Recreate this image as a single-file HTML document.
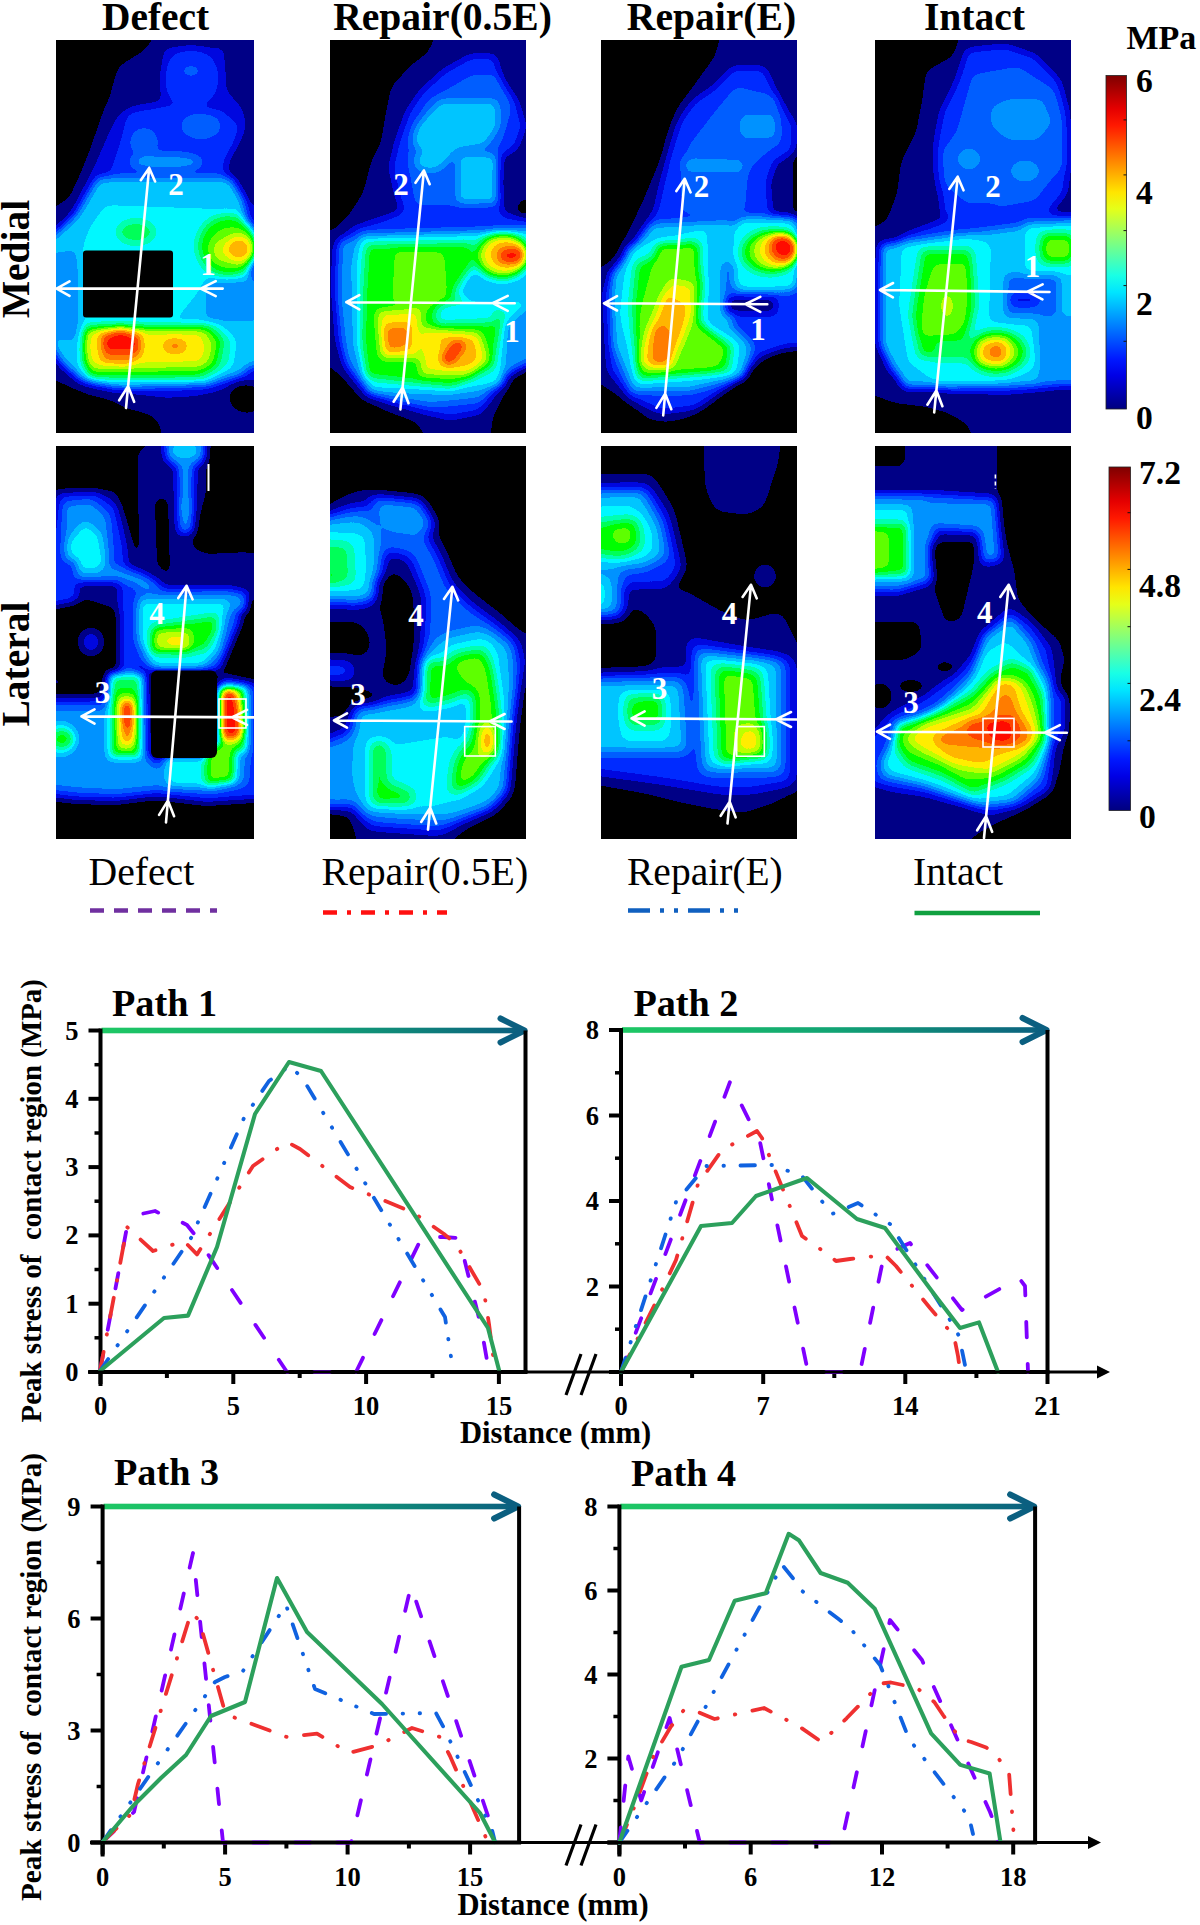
<!DOCTYPE html><html><head><meta charset="utf-8"><title>figure</title>
<style>html,body{margin:0;padding:0;background:#fff;}svg{display:block;}text{font-family:'Liberation Serif', serif;}</style></head><body>
<svg width="1200" height="1925" viewBox="0 0 1200 1925">
<defs>
<filter id="jet" x="-0.1" y="-0.1" width="1.2" height="1.2" color-interpolation-filters="sRGB"><feGaussianBlur stdDeviation="4.2"/><feComponentTransfer><feFuncR type="discrete" tableValues="0.000 0.000 0.000 0.000 0.000 0.000 0.000 0.000 0.000 0.000 0.000 0.370 0.741 1.000 1.000 1.000 1.000 1.000 0.779 0.502"/><feFuncG type="discrete" tableValues="0.000 0.000 0.029 0.170 0.372 0.573 0.774 0.976 1.000 1.000 1.000 1.000 1.000 0.933 0.711 0.489 0.267 0.044 0.000 0.000"/><feFuncB type="discrete" tableValues="0.000 0.529 0.878 1.000 1.000 1.000 1.000 1.000 0.694 0.347 0.000 0.000 0.000 0.000 0.000 0.000 0.000 0.000 0.000 0.000"/><feFuncA type="linear" slope="0" intercept="1"/></feComponentTransfer></filter>
<filter id="jet6" x="-0.1" y="-0.1" width="1.2" height="1.2" color-interpolation-filters="sRGB"><feGaussianBlur stdDeviation="6.0"/><feComponentTransfer><feFuncR type="discrete" tableValues="0.000 0.000 0.000 0.000 0.000 0.000 0.000 0.000 0.000 0.000 0.000 0.370 0.741 1.000 1.000 1.000 1.000 1.000 0.779 0.502"/><feFuncG type="discrete" tableValues="0.000 0.000 0.029 0.170 0.372 0.573 0.774 0.976 1.000 1.000 1.000 1.000 1.000 0.933 0.711 0.489 0.267 0.044 0.000 0.000"/><feFuncB type="discrete" tableValues="0.000 0.529 0.878 1.000 1.000 1.000 1.000 1.000 0.694 0.347 0.000 0.000 0.000 0.000 0.000 0.000 0.000 0.000 0.000 0.000"/><feFuncA type="linear" slope="0" intercept="1"/></feComponentTransfer></filter>
<filter id="jet8" x="-0.1" y="-0.1" width="1.2" height="1.2" color-interpolation-filters="sRGB"><feGaussianBlur stdDeviation="8.0"/><feComponentTransfer><feFuncR type="discrete" tableValues="0.000 0.000 0.000 0.000 0.000 0.000 0.000 0.000 0.000 0.000 0.000 0.370 0.741 1.000 1.000 1.000 1.000 1.000 0.779 0.502"/><feFuncG type="discrete" tableValues="0.000 0.000 0.029 0.170 0.372 0.573 0.774 0.976 1.000 1.000 1.000 1.000 1.000 0.933 0.711 0.489 0.267 0.044 0.000 0.000"/><feFuncB type="discrete" tableValues="0.000 0.529 0.878 1.000 1.000 1.000 1.000 1.000 0.694 0.347 0.000 0.000 0.000 0.000 0.000 0.000 0.000 0.000 0.000 0.000"/><feFuncA type="linear" slope="0" intercept="1"/></feComponentTransfer></filter>
<linearGradient id="cbar" x1="0" y1="1" x2="0" y2="0">
<stop offset="0.000" stop-color="rgb(0,0,127)"/>
<stop offset="0.050" stop-color="rgb(0,0,178)"/>
<stop offset="0.100" stop-color="rgb(0,0,229)"/>
<stop offset="0.150" stop-color="rgb(0,25,255)"/>
<stop offset="0.200" stop-color="rgb(0,76,255)"/>
<stop offset="0.250" stop-color="rgb(0,127,255)"/>
<stop offset="0.300" stop-color="rgb(0,178,255)"/>
<stop offset="0.350" stop-color="rgb(0,229,255)"/>
<stop offset="0.400" stop-color="rgb(25,255,229)"/>
<stop offset="0.450" stop-color="rgb(76,255,178)"/>
<stop offset="0.500" stop-color="rgb(127,255,127)"/>
<stop offset="0.550" stop-color="rgb(178,255,76)"/>
<stop offset="0.600" stop-color="rgb(229,255,25)"/>
<stop offset="0.650" stop-color="rgb(255,229,0)"/>
<stop offset="0.700" stop-color="rgb(255,178,0)"/>
<stop offset="0.750" stop-color="rgb(255,127,0)"/>
<stop offset="0.800" stop-color="rgb(255,76,0)"/>
<stop offset="0.850" stop-color="rgb(255,25,0)"/>
<stop offset="0.900" stop-color="rgb(229,0,0)"/>
<stop offset="0.950" stop-color="rgb(178,0,0)"/>
<stop offset="1.000" stop-color="rgb(127,0,0)"/>
</linearGradient>
<linearGradient id="garr" x1="0" y1="0" x2="1" y2="0"><stop offset="0" stop-color="#1ec864"/><stop offset="0.5" stop-color="#12a474"/><stop offset="1" stop-color="#0b5f80"/></linearGradient>
</defs>
<text x="155.6" y="30.0" font-size="39.4" font-weight="bold" text-anchor="middle" fill="#000" >Defect</text>
<text x="442.5" y="30.0" font-size="39.6" font-weight="bold" text-anchor="middle" fill="#000" >Repair(0.5E)</text>
<text x="711.5" y="30.0" font-size="39.6" font-weight="bold" text-anchor="middle" fill="#000" >Repair(E)</text>
<text x="974.5" y="30.0" font-size="39.6" font-weight="bold" text-anchor="middle" fill="#000" >Intact</text>
<text transform="translate(29,259) rotate(-90)" font-size="39.5" font-weight="bold" text-anchor="middle">Medial</text>
<text transform="translate(28.5,664) rotate(-90)" font-size="39.5" font-weight="bold" text-anchor="middle">Lateral</text>
<clipPath id="clip00"><rect x="0" y="0" width="198" height="393"/></clipPath>
<g transform="translate(56,40)" clip-path="url(#clip00)">
<g filter="url(#jet)">
<rect x="-20" y="-20" width="238" height="433" fill="#060606"/>
<polygon points="105.0,-14.0 212.0,-14.0 212.0,407.0 109.0,407.0 102.0,380.0 89.0,373.0 69.0,368.0 54.0,360.0 33.0,355.0 16.0,348.0 -14.0,334.0 -14.0,175.0 13.0,158.0 25.0,132.0 33.0,112.0 40.0,92.0 48.0,69.0 54.0,56.0 58.0,40.0 63.0,26.0 79.0,16.0 89.0,10.0" fill="#131313"/>
<ellipse cx="191.0" cy="358.0" rx="18.0" ry="15.0" fill="#060606"/>
<polygon points="108.0,8.0 168.0,8.0 170.0,50.0 186.0,68.0 190.0,84.0 184.0,100.0 172.0,118.0 170.0,135.0 188.0,160.0 212.0,175.0 212.0,345.0 180.0,340.0 165.0,350.0 140.0,356.0 110.0,358.0 90.0,355.0 60.0,348.0 30.0,342.0 12.0,328.0 5.0,290.0 4.0,200.0 18.0,170.0 30.0,145.0 42.0,118.0 52.0,95.0 62.0,75.0 80.0,66.0 105.0,62.0" fill="#202020"/>
<ellipse cx="135.0" cy="38.0" rx="28.0" ry="30.0" fill="#2d2d2d"/>
<ellipse cx="135.0" cy="31.0" rx="10.0" ry="5.0" fill="#393939"/>
<polygon points="72.0,72.0 110.0,66.0 165.0,70.0 184.0,86.0 178.0,106.0 168.0,125.0 172.0,150.0 190.0,172.0 190.0,205.0 40.0,205.0 45.0,160.0 55.0,130.0 65.0,100.0" fill="#2d2d2d"/>
<ellipse cx="145.0" cy="86.0" rx="20.0" ry="13.0" fill="#393939"/>
<ellipse cx="88.0" cy="102.0" rx="14.0" ry="14.0" fill="#393939"/>
<ellipse cx="110.0" cy="122.0" rx="36.0" ry="8.0" fill="#464646"/>
<polygon points="42.0,138.0 175.0,138.0 188.0,160.0 190.0,240.0 212.0,270.0 212.0,310.0 185.0,335.0 150.0,345.0 60.0,348.0 25.0,340.0 5.0,322.0 -14.0,290.0 -14.0,205.0 20.0,175.0" fill="#535353"/>
<polygon points="50.0,165.0 188.0,170.0 195.0,240.0 150.0,242.0 120.0,280.0 27.0,280.0 27.0,205.0 35.0,185.0" fill="#606060"/>
<ellipse cx="80.0" cy="192.0" rx="18.0" ry="11.0" fill="#797979"/>
<polygon points="-14.0,215.0 20.0,210.0 24.0,240.0 22.0,300.0 -14.0,300.0" fill="#464646"/>
<polygon points="150.0,240.0 212.0,238.0 212.0,280.0 150.0,282.0" fill="#464646"/>
<polygon points="170.0,288.0 212.0,282.0 212.0,322.0 182.0,330.0" fill="#535353"/>
<ellipse cx="172.0" cy="206.0" rx="30.0" ry="30.0" fill="#868686"/>
<ellipse cx="176.0" cy="208.0" rx="23.0" ry="21.0" fill="#939393"/>
<ellipse cx="164.0" cy="211.0" rx="8.0" ry="12.0" fill="#9f9f9f"/>
<ellipse cx="183.0" cy="209.0" rx="14.0" ry="13.0" fill="#b9b9b9"/>
<polygon points="30.0,283.0 160.0,283.0 178.0,300.0 175.0,325.0 150.0,342.0 35.0,342.0 25.0,325.0 25.0,295.0" fill="#6c6c6c"/>
<polygon points="30.0,287.0 152.0,287.0 165.0,300.0 160.0,326.0 142.0,335.0 34.0,335.0 27.0,320.0 27.0,296.0" fill="#939393"/>
<polygon points="31.0,290.0 148.0,290.0 156.0,305.0 150.0,325.0 34.0,328.0 29.0,310.0" fill="#9f9f9f"/>
<polygon points="33.0,292.0 145.0,293.0 150.0,310.0 144.0,323.0 36.0,325.0 31.0,310.0" fill="#acacac"/>
<polygon points="45.0,289.0 86.0,289.0 100.0,300.0 130.0,300.0 133.0,312.0 120.0,319.0 85.0,318.0 70.0,324.0 45.0,323.0" fill="#acacac"/>
<polygon points="44.0,290.0 84.0,292.0 84.0,316.0 72.0,325.0 46.0,323.0" fill="#c6c6c6"/>
<ellipse cx="119.0" cy="306.0" rx="11.0" ry="6.0" fill="#c6c6c6"/>
<polygon points="64.0,287.0 84.0,299.0 84.0,312.0 48.0,312.0 46.0,300.0" fill="#dfdfdf"/>
</g>
<rect x="27.0" y="210.5" width="90.0" height="67.0" rx="3.0" fill="#000"/>
<path d="M166.7,248.6 L0.5,248.6 M13.5,241.4 L0.5,248.6 L13.5,255.8 M159.7,241.1 L144.7,248.6 L159.7,256.1" fill="none" stroke="#fff" stroke-width="2.6" stroke-linecap="round" stroke-linejoin="round"/>
<path d="M70.0,368.0 L93.2,127.9 M99.1,141.5 L93.2,127.9 L84.8,140.2 M78.1,361.8 L72.1,346.1 L63.2,360.3" fill="none" stroke="#fff" stroke-width="2.6" stroke-linecap="round" stroke-linejoin="round"/>
<text x="120.0" y="155.0" font-size="31" font-weight="bold" fill="#fff" text-anchor="middle">2</text>
<text x="152.0" y="234.5" font-size="31" font-weight="bold" fill="#fff" text-anchor="middle">1</text>
</g>
<clipPath id="clip01"><rect x="0" y="0" width="196" height="393"/></clipPath>
<g transform="translate(330,40)" clip-path="url(#clip01)">
<g filter="url(#jet)">
<rect x="-20" y="-20" width="236" height="433" fill="#060606"/>
<polygon points="110.0,-14.0 210.0,-14.0 210.0,322.0 184.0,337.0 173.0,357.0 163.0,377.0 159.0,407.0 102.0,407.0 86.0,382.0 61.0,373.0 31.0,359.0 12.0,337.0 -14.0,316.0 -14.0,196.0 6.0,188.0 20.0,173.0 33.0,153.0 41.0,122.0 51.0,102.0 55.0,77.0 61.0,47.0 80.0,26.0 98.0,12.0" fill="#131313"/>
<ellipse cx="195.0" cy="172.0" rx="8.0" ry="14.0" fill="#060606"/>
<polygon points="141.0,16.0 165.0,16.0 171.0,40.0 186.0,60.0 194.0,86.0 186.0,108.0 171.0,116.0 169.0,143.0 172.0,175.0 210.0,180.0 210.0,320.0 180.0,332.0 165.0,352.0 150.0,372.0 120.0,378.0 95.0,372.0 60.0,362.0 35.0,350.0 18.0,330.0 8.0,300.0 4.0,240.0 6.0,205.0 25.0,188.0 55.0,178.0 73.0,171.0 67.0,155.0 61.0,127.0 67.0,102.0 78.0,71.0 92.0,51.0 114.0,31.0" fill="#2d2d2d"/>
<polygon points="143.0,35.0 169.0,35.0 182.0,67.0 169.0,108.0 145.0,116.0 150.0,165.0 86.0,165.0 78.0,122.0 82.0,92.0 98.0,61.0" fill="#393939"/>
<polygon points="110.0,61.0 167.0,61.0 169.0,86.0 155.0,106.0 126.0,110.0 118.0,122.0 94.0,114.0 82.0,102.0 86.0,86.0" fill="#535353"/>
<polygon points="128.0,114.0 167.0,114.0 167.0,163.0 128.0,163.0" fill="#535353"/>
<ellipse cx="100.0" cy="121.0" rx="15.0" ry="10.0" fill="#535353"/>
<polygon points="10.0,200.0 210.0,188.0 210.0,315.0 175.0,335.0 150.0,360.0 100.0,365.0 40.0,355.0 15.0,320.0 8.0,260.0" fill="#464646"/>
<polygon points="30.0,195.0 210.0,190.0 210.0,255.0 175.0,285.0 172.0,345.0 120.0,352.0 40.0,350.0 26.0,305.0 24.0,225.0" fill="#606060"/>
<polygon points="132.0,232.0 210.0,228.0 210.0,262.0 130.0,262.0" fill="#535353"/>
<polygon points="36.0,205.0 143.0,203.0 143.0,225.0 122.0,255.0 173.0,275.0 163.0,327.0 122.0,347.0 35.0,337.0 32.0,300.0 33.0,255.0" fill="#868686"/>
<polygon points="106.0,261.0 160.0,262.0 168.0,282.0 106.0,285.0" fill="#606060"/>
<polygon points="65.0,210.0 114.0,212.0 118.0,262.0 96.0,270.0 62.0,262.0" fill="#939393"/>
<polygon points="45.0,270.0 95.0,268.0 90.0,318.0 50.0,318.0" fill="#939393"/>
<polygon points="49.0,272.0 90.0,270.0 88.0,318.0 52.0,318.0" fill="#acacac"/>
<polygon points="53.0,286.0 80.0,284.0 80.0,308.0 56.0,312.0" fill="#c6c6c6"/>
<polygon points="88.0,286.0 150.0,292.0 160.0,320.0 140.0,337.0 90.0,336.0" fill="#9f9f9f"/>
<polygon points="92.0,290.0 148.0,295.0 155.0,318.0 138.0,332.0 95.0,330.0" fill="#acacac"/>
<polygon points="110.0,296.0 145.0,298.0 148.0,322.0 132.0,328.0 112.0,326.0" fill="#b9b9b9"/>
<polygon points="127.0,299.0 135.0,305.0 119.0,326.0 111.0,319.0" fill="#dfdfdf"/>
<ellipse cx="172.0" cy="216.0" rx="27.0" ry="23.0" fill="#939393"/>
<ellipse cx="174.0" cy="215.0" rx="22.0" ry="18.0" fill="#acacac"/>
<ellipse cx="178.0" cy="214.0" rx="18.0" ry="14.0" fill="#b9b9b9"/>
<polygon points="170.0,210.0 192.0,208.0 193.0,222.0 170.0,222.0" fill="#dfdfdf"/>
</g>
<path d="M184.7,263.3 L16.3,262.2 M29.3,255.1 L16.3,262.2 L29.3,269.4 M177.7,255.8 L162.7,263.2 L177.7,270.8" fill="none" stroke="#fff" stroke-width="2.6" stroke-linecap="round" stroke-linejoin="round"/>
<path d="M70.4,369.4 L93.9,130.6 M99.7,144.2 L93.9,130.6 L85.5,142.8 M78.5,363.2 L72.6,347.5 L63.6,361.7" fill="none" stroke="#fff" stroke-width="2.6" stroke-linecap="round" stroke-linejoin="round"/>
<text x="71.0" y="155.0" font-size="31" font-weight="bold" fill="#fff" text-anchor="middle">2</text>
<text x="182.0" y="302.0" font-size="31" font-weight="bold" fill="#fff" text-anchor="middle">1</text>
</g>
<clipPath id="clip02"><rect x="0" y="0" width="196" height="393"/></clipPath>
<g transform="translate(601,40)" clip-path="url(#clip02)">
<g filter="url(#jet)">
<rect x="-20" y="-20" width="236" height="433" fill="#060606"/>
<polygon points="122.0,-14.0 182.0,-14.0 210.0,10.0 210.0,308.0 177.0,310.0 163.0,318.0 147.0,330.0 126.0,347.0 106.0,365.0 86.0,378.0 67.0,382.0 49.0,380.0 35.0,369.0 16.0,355.0 -14.0,335.0 -14.0,235.0 12.0,220.0 26.0,194.0 41.0,163.0 51.0,139.0 61.0,116.0 67.0,92.0 77.0,67.0 96.0,41.0 114.0,16.0" fill="#131313"/>
<polygon points="192.0,115.0 210.0,112.0 210.0,180.0 192.0,178.0" fill="#060606"/>
<polygon points="132.0,28.0 163.0,28.0 178.0,60.0 194.0,86.0 192.0,112.0 174.0,122.0 167.0,143.0 170.0,176.0 210.0,178.0 210.0,300.0 160.0,315.0 130.0,345.0 95.0,368.0 60.0,372.0 30.0,358.0 8.0,330.0 4.0,250.0 20.0,225.0 40.0,195.0 55.0,170.0 61.0,143.0 68.0,114.0 78.0,82.0 92.0,62.0 114.0,47.0" fill="#2d2d2d"/>
<polygon points="135.0,47.0 177.0,57.0 180.0,102.0 163.0,114.0 147.0,130.0 143.0,173.0 82.0,173.0 80.0,143.0 88.0,106.0 114.0,72.0" fill="#393939"/>
<polygon points="139.0,75.0 175.0,75.0 175.0,98.0 139.0,98.0" fill="#464646"/>
<polygon points="82.0,118.0 143.0,120.0 143.0,132.0 82.0,132.0" fill="#464646"/>
<polygon points="10.0,235.0 51.0,184.0 130.0,180.0 143.0,224.0 130.0,285.0 151.0,306.0 143.0,337.0 88.0,351.0 31.0,351.0 12.0,306.0" fill="#535353"/>
<polygon points="27.0,208.0 106.0,188.0 106.0,285.0 139.0,302.0 135.0,335.0 37.0,343.0 18.0,276.0" fill="#606060"/>
<polygon points="35.0,224.0 92.0,200.0 102.0,245.0 96.0,282.0 130.0,306.0 127.0,331.0 37.0,339.0 31.0,265.0" fill="#868686"/>
<polygon points="57.0,204.0 98.0,204.0 98.0,282.0 127.0,310.0 114.0,331.0 41.0,335.0 35.0,286.0" fill="#939393"/>
<polygon points="69.0,241.0 92.0,245.0 92.0,276.0 73.0,316.0 37.0,327.0 41.0,306.0" fill="#acacac"/>
<polygon points="63.0,253.0 86.0,265.0 82.0,296.0 69.0,327.0 47.0,327.0 49.0,296.0" fill="#b9b9b9"/>
<polygon points="51.0,286.0 69.0,286.0 69.0,326.0 49.0,326.0" fill="#c6c6c6"/>
<polygon points="122.0,224.0 184.0,224.0 184.0,255.0 122.0,255.0" fill="#393939"/>
<polygon points="124.0,256.0 175.0,256.0 175.0,274.0 124.0,274.0" fill="#131313"/>
<polygon points="176.0,245.0 210.0,245.0 210.0,306.0 176.0,306.0" fill="#2d2d2d"/>
<rect x="133.0" y="178.0" width="64.0" height="73.0" rx="10.0" fill="#606060"/>
<ellipse cx="168.0" cy="212.0" rx="28.0" ry="21.0" fill="#868686"/>
<ellipse cx="174.0" cy="211.0" rx="24.0" ry="19.0" fill="#9f9f9f"/>
<ellipse cx="180.0" cy="210.0" rx="19.0" ry="16.0" fill="#b9b9b9"/>
<ellipse cx="183.0" cy="207.0" rx="13.0" ry="13.0" fill="#dfdfdf"/>
</g>
<path d="M166.3,264.3 L3.0,263.3 M16.0,256.2 L3.0,263.3 L16.0,270.5 M159.3,256.8 L144.3,264.2 L159.3,271.8" fill="none" stroke="#fff" stroke-width="2.6" stroke-linecap="round" stroke-linejoin="round"/>
<path d="M62.2,375.5 L83.7,138.8 M89.6,152.4 L83.7,138.8 L75.4,151.1 M70.3,369.2 L64.2,353.6 L55.4,367.9" fill="none" stroke="#fff" stroke-width="2.6" stroke-linecap="round" stroke-linejoin="round"/>
<text x="100.5" y="157.0" font-size="31" font-weight="bold" fill="#fff" text-anchor="middle">2</text>
<text x="157.0" y="300.0" font-size="31" font-weight="bold" fill="#fff" text-anchor="middle">1</text>
</g>
<clipPath id="clip03"><rect x="0" y="0" width="196" height="393"/></clipPath>
<g transform="translate(875,40)" clip-path="url(#clip03)">
<g filter="url(#jet)">
<rect x="-20" y="-20" width="236" height="433" fill="#060606"/>
<polygon points="88.0,-14.0 210.0,-14.0 210.0,407.0 102.0,407.0 92.0,384.0 73.0,373.0 51.0,367.0 20.0,363.0 -14.0,351.0 -14.0,194.0 12.0,180.0 22.0,153.0 26.0,122.0 41.0,92.0 47.0,61.0 51.0,31.0 78.0,16.0" fill="#131313"/>
<polygon points="92.0,10.0 130.0,6.0 160.0,16.0 184.0,41.0 192.0,71.0 194.0,122.0 190.0,153.0 173.0,173.0 210.0,178.0 210.0,340.0 170.0,348.0 130.0,352.0 80.0,350.0 40.0,345.0 15.0,330.0 4.0,300.0 5.0,220.0 30.0,195.0 70.0,180.0 77.0,173.0 67.0,163.0 61.0,133.0 61.0,102.0 67.0,71.0 82.0,41.0" fill="#2d2d2d"/>
<polygon points="98.0,35.0 143.0,27.0 180.0,51.0 190.0,86.0 188.0,126.0 173.0,143.0 160.0,160.0 122.0,167.0 92.0,163.0 69.0,143.0 67.0,112.0 82.0,92.0" fill="#393939"/>
<polygon points="116.0,67.0 133.0,59.0 167.0,59.0 177.0,82.0 163.0,100.0 133.0,100.0 116.0,86.0" fill="#464646"/>
<ellipse cx="94.0" cy="119.0" rx="12.0" ry="11.0" fill="#464646"/>
<ellipse cx="150.0" cy="131.0" rx="15.0" ry="11.0" fill="#464646"/>
<polygon points="67.0,163.0 122.0,163.0 122.0,175.0 67.0,175.0" fill="#2d2d2d"/>
<polygon points="6.0,205.0 210.0,178.0 210.0,337.0 160.0,345.0 30.0,347.0 6.0,306.0" fill="#535353"/>
<polygon points="27.0,204.0 88.0,194.0 116.0,204.0 114.0,282.0 157.0,286.0 163.0,327.0 130.0,343.0 67.0,347.0 33.0,322.0 24.0,265.0" fill="#606060"/>
<polygon points="150.0,183.0 210.0,183.0 210.0,235.0 150.0,235.0" fill="#606060"/>
<polygon points="47.0,210.0 96.0,210.0 100.0,265.0 92.0,300.0 70.0,318.0 45.0,316.0 37.0,276.0" fill="#868686"/>
<ellipse cx="122.0" cy="312.0" rx="30.0" ry="21.0" fill="#868686"/>
<polygon points="60.0,300.0 100.0,300.0 100.0,320.0 60.0,320.0" fill="#797979"/>
<polygon points="59.0,224.0 94.0,224.0 92.0,282.0 78.0,296.0 45.0,296.0 49.0,255.0" fill="#939393"/>
<ellipse cx="72.0" cy="266.0" rx="6.0" ry="12.0" fill="#9f9f9f"/>
<ellipse cx="120.0" cy="311.0" rx="22.0" ry="19.0" fill="#939393"/>
<ellipse cx="121.0" cy="312.0" rx="18.0" ry="12.0" fill="#acacac"/>
<polygon points="106.0,302.0 131.0,300.0 130.0,323.0 104.0,322.0" fill="#b9b9b9"/>
<polygon points="114.0,302.0 128.6,302.0 128.0,322.0 115.0,322.0" fill="#c6c6c6"/>
<rect x="165.0" y="193.0" width="34.0" height="30.0" rx="8.0" fill="#868686"/>
<rect x="169.0" y="198.0" width="30.0" height="22.0" rx="6.0" fill="#939393"/>
<polygon points="131.0,235.0 184.0,235.0 184.0,276.0 131.0,276.0" fill="#393939"/>
<polygon points="135.0,255.0 163.0,255.0 163.0,265.0 135.0,265.0" fill="#202020"/>
<polygon points="163.0,276.0 210.0,276.0 210.0,345.0 163.0,345.0" fill="#464646"/>
</g>
<path d="M174.5,252.0 L5.0,250.0 M18.1,243.0 L5.0,250.0 L17.9,257.3 M167.6,244.4 L152.5,251.7 L167.4,259.4" fill="none" stroke="#fff" stroke-width="2.6" stroke-linecap="round" stroke-linejoin="round"/>
<path d="M59.2,372.4 L82.7,136.7 M88.5,150.3 L82.7,136.7 L74.3,148.9 M67.4,366.2 L61.4,350.5 L52.4,364.7" fill="none" stroke="#fff" stroke-width="2.6" stroke-linecap="round" stroke-linejoin="round"/>
<text x="118.0" y="157.0" font-size="31" font-weight="bold" fill="#fff" text-anchor="middle">2</text>
<text x="157.5" y="236.5" font-size="31" font-weight="bold" fill="#fff" text-anchor="middle">1</text>
</g>
<clipPath id="clip10"><rect x="0" y="0" width="198" height="393"/></clipPath>
<g transform="translate(56,446)" clip-path="url(#clip10)">
<g filter="url(#jet)">
<rect x="-20" y="-20" width="238" height="433" fill="#060606"/>
<polygon points="82.0,5.0 112.0,-14.0 150.0,-14.0 150.0,48.0 140.0,80.0 135.0,100.0 150.0,108.0 190.0,106.0 212.0,110.0 212.0,152.0 66.0,152.0 80.0,130.0 84.0,100.0 82.0,60.0" fill="#131313"/>
<polygon points="99.0,52.0 112.0,52.0 114.0,132.0 102.0,132.0 100.0,90.0" fill="#060606"/>
<polygon points="108.0,-14.0 150.0,-14.0 148.0,14.0 137.0,20.0 136.0,86.0 123.0,86.0 122.0,20.0 111.0,14.0" fill="#464646"/>
<ellipse cx="128.0" cy="5.0" rx="16.0" ry="8.0" fill="#535353"/>
<ellipse cx="129.0" cy="62.0" rx="5.0" ry="10.0" fill="#535353"/>
<polygon points="-14.0,45.0 60.0,45.0 72.0,80.0 80.0,110.0 110.0,125.0 110.0,150.0 66.0,155.0 60.0,170.0 -14.0,170.0" fill="#131313"/>
<polygon points="3.0,48.0 40.0,46.0 60.0,60.0 69.0,100.0 70.0,120.0 107.0,138.0 100.0,152.0 60.0,152.0 40.0,140.0 25.0,165.0 -14.0,165.0" fill="#2d2d2d"/>
<polygon points="8.0,58.0 35.0,55.0 52.0,70.0 55.0,110.0 50.0,138.0 20.0,140.0 8.0,120.0" fill="#464646"/>
<polygon points="48.0,118.0 90.0,130.0 105.0,145.0 60.0,148.0 48.0,135.0" fill="#464646"/>
<polygon points="11.0,96.0 29.0,76.0 44.0,88.0 49.0,118.0 40.0,126.0 14.0,124.0" fill="#606060"/>
<polygon points="-14.0,130.0 22.0,130.0 25.0,165.0 -14.0,165.0" fill="#464646"/>
<polygon points="67.0,143.0 178.0,143.0 184.0,174.0 163.0,224.0 92.0,224.0 67.0,204.0" fill="#393939"/>
<polygon points="79.0,150.0 190.0,146.0 190.0,165.0 79.0,165.0" fill="#464646"/>
<polygon points="82.0,155.0 173.0,155.0 163.0,204.0 147.0,222.0 98.0,222.0 82.0,194.0" fill="#606060"/>
<polygon points="98.0,180.0 161.0,170.0 161.0,184.0 149.0,204.0 98.0,206.0" fill="#868686"/>
<polygon points="96.0,184.0 135.0,184.0 135.0,206.0 96.0,206.0" fill="#9f9f9f"/>
<polygon points="110.0,190.0 130.0,190.0 130.0,202.0 110.0,202.0" fill="#acacac"/>
<polygon points="-14.0,236.0 25.0,236.0 40.0,250.0 50.0,250.0 50.0,225.0 92.0,225.0 95.0,312.0 165.0,312.0 165.0,230.0 190.0,236.0 212.0,240.0 212.0,352.0 150.0,356.0 100.0,350.0 60.0,355.0 20.0,354.0 -14.0,350.0" fill="#2d2d2d"/>
<polygon points="-14.0,262.0 55.0,262.0 55.0,312.0 95.0,312.0 95.0,320.0 160.0,322.0 178.0,310.0 192.0,306.0 190.0,338.0 160.0,345.0 100.0,342.0 60.0,346.0 20.0,344.0 -14.0,340.0" fill="#464646"/>
<polygon points="108.0,310.0 160.0,310.0 175.0,320.0 160.0,342.0 112.0,340.0" fill="#606060"/>
<ellipse cx="4.0" cy="293.0" rx="16.0" ry="16.0" fill="#606060"/>
<ellipse cx="6.0" cy="293.0" rx="11.0" ry="9.0" fill="#868686"/>
<polygon points="-14.0,135.0 64.0,135.0 80.0,150.0 84.0,232.0 62.0,252.0 -14.0,252.0" fill="#131313"/>
<polygon points="-14.0,114.0 21.0,114.0 21.0,166.0 -14.0,166.0" fill="#2d2d2d"/>
<polygon points="-14.0,162.0 30.0,153.0 60.0,163.0 76.0,185.0 76.0,215.0 65.0,235.0 40.0,240.0 -14.0,230.0" fill="#060606"/>
<ellipse cx="35.0" cy="196.0" rx="11.0" ry="12.0" fill="#202020"/>
<polygon points="-14.0,239.0 40.0,239.0 47.0,246.0 40.0,252.0 -14.0,252.0" fill="#060606"/>
<polygon points="64.0,135.0 82.0,140.0 82.0,228.0 64.0,228.0" fill="#2d2d2d"/>
<polygon points="53.0,228.0 86.0,228.0 86.0,312.0 53.0,312.0" fill="#797979"/>
<polygon points="59.0,245.0 81.0,245.0 81.0,306.0 59.0,306.0" fill="#939393"/>
<polygon points="61.0,257.0 79.0,257.0 79.0,306.0 61.0,306.0" fill="#9f9f9f"/>
<polygon points="65.0,280.0 78.0,280.0 78.0,296.0 65.0,296.0" fill="#c6c6c6"/>
<polygon points="65.0,255.0 77.0,255.0 78.0,282.0 66.0,282.0" fill="#dfdfdf"/>
<polygon points="162.0,241.0 191.0,241.0 191.0,306.0 162.0,306.0" fill="#868686"/>
<polygon points="150.0,300.0 180.0,295.0 178.0,336.0 150.0,338.0" fill="#939393"/>
<polygon points="165.0,243.0 180.0,243.0 184.0,262.0 186.0,290.0 175.0,295.0 165.0,292.0" fill="#dfdfdf"/>
</g>
<rect x="95.0" y="224.5" width="66.0" height="87.5" rx="6.0" fill="#000"/>
<path d="M198.0,271.4 L25.5,270.4 M38.5,263.3 L25.5,270.4 L38.5,277.6 M191.0,263.9 L176.0,271.3 L191.0,278.9" fill="none" stroke="#fff" stroke-width="2.6" stroke-linecap="round" stroke-linejoin="round"/>
<path d="M110.0,376.5 L130.6,139.8 M136.6,153.4 L130.6,139.8 L122.3,152.1 M118.1,370.2 L111.9,354.6 L103.1,368.9" fill="none" stroke="#fff" stroke-width="2.6" stroke-linecap="round" stroke-linejoin="round"/>
<rect x="163.0" y="253.0" width="27.0" height="29.0" fill="none" stroke="#fff" stroke-width="1.6"/>
<line x1="152.5" y1="18.0" x2="152.5" y2="45.0" stroke="#fff" stroke-width="2.0"/>
<text x="46.5" y="257.0" font-size="31" font-weight="bold" fill="#fff" text-anchor="middle">3</text>
<text x="101.0" y="177.5" font-size="31" font-weight="bold" fill="#fff" text-anchor="middle">4</text>
</g>
<clipPath id="clip11"><rect x="0" y="0" width="196" height="393"/></clipPath>
<g transform="translate(330,446)" clip-path="url(#clip11)">
<g filter="url(#jet6)">
<rect x="-20" y="-20" width="236" height="433" fill="#060606"/>
<polygon points="-14.0,67.0 20.0,47.0 37.0,43.0 57.0,65.0 98.0,71.0 114.0,102.0 126.0,130.0 143.0,147.0 169.0,167.0 188.0,184.0 210.0,194.0 210.0,210.0 190.0,245.0 184.0,286.0 180.0,347.0 163.0,367.0 133.0,384.0 112.0,407.0 30.0,407.0 20.0,370.0 -14.0,360.0" fill="#131313"/>
<polygon points="-14.0,75.0 20.0,62.0 40.0,60.0 57.0,75.0 90.0,80.0 108.0,110.0 120.0,140.0 140.0,160.0 165.0,178.0 185.0,195.0 190.0,215.0 186.0,250.0 180.0,290.0 175.0,345.0 158.0,362.0 130.0,375.0 110.0,385.0 40.0,380.0 20.0,355.0 -14.0,340.0 -14.0,300.0 20.0,285.0 40.0,262.0 60.0,255.0 90.0,250.0 95.0,180.0 96.0,150.0 80.0,110.0 55.0,105.0 45.0,150.0 -14.0,158.0" fill="#393939"/>
<polygon points="-14.0,75.0 30.0,72.0 47.0,85.0 50.0,150.0 30.0,157.0 -14.0,155.0" fill="#535353"/>
<polygon points="40.0,50.0 90.0,55.0 105.0,80.0 90.0,90.0 55.0,85.0" fill="#464646"/>
<polygon points="-14.0,86.0 35.0,88.0 37.0,143.0 -14.0,143.0" fill="#606060"/>
<polygon points="-14.0,96.0 20.0,98.0 22.0,138.0 -14.0,138.0" fill="#797979"/>
<ellipse cx="1.0" cy="132.0" rx="4.0" ry="7.0" fill="#939393"/>
<polygon points="45.0,133.0 67.0,126.0 82.0,143.0 86.0,184.0 82.0,224.0 71.0,241.0 51.0,235.0 57.0,204.0 53.0,173.0 45.0,147.0" fill="#060606"/>
<polygon points="-14.0,176.0 30.0,176.0 41.0,193.0 37.0,210.0 -14.0,207.0" fill="#060606"/>
<polygon points="-14.0,216.0 20.0,216.0 22.0,233.0 -14.0,233.0" fill="#2d2d2d"/>
<polygon points="-14.0,236.0 20.0,240.0 51.0,249.0 41.0,262.0 10.0,270.0 -14.0,272.0" fill="#060606"/>
<polygon points="-14.0,300.0 30.0,290.0 40.0,340.0 20.0,360.0 -14.0,360.0" fill="#464646"/>
<polygon points="24.0,262.0 70.0,258.0 92.0,250.0 96.0,205.0 115.0,190.0 150.0,182.0 180.0,200.0 185.0,240.0 180.0,300.0 176.0,345.0 160.0,362.0 120.0,372.0 70.0,370.0 30.0,366.0 22.0,330.0" fill="#535353"/>
<polygon points="41.0,282.0 90.0,280.0 110.0,262.0 122.0,255.0 126.0,215.0 150.0,182.0 176.0,200.0 178.0,230.0 150.0,240.0 153.0,330.0 150.0,362.0 110.0,368.0 60.0,362.0 40.0,355.0" fill="#535353"/>
<polygon points="60.0,300.0 120.0,290.0 135.0,300.0 135.0,350.0 100.0,362.0 60.0,355.0" fill="#606060"/>
<polygon points="115.0,200.0 160.0,190.0 170.0,215.0 140.0,235.0 118.0,240.0" fill="#606060"/>
<polygon points="41.0,296.0 57.0,296.0 57.0,337.0 82.0,347.0 82.0,359.0 41.0,359.0" fill="#868686"/>
<polygon points="92.0,214.0 126.0,214.0 143.0,245.0 122.0,255.0 92.0,261.0" fill="#868686"/>
<polygon points="122.0,210.0 153.0,204.0 163.0,224.0 169.0,265.0 167.0,306.0 147.0,337.0 122.0,347.0 126.0,316.0 143.0,286.0 143.0,245.0 126.0,224.0" fill="#939393"/>
<polygon points="139.0,286.0 153.0,286.0 153.0,306.0 139.0,306.0" fill="#868686"/>
<polygon points="151.0,282.0 165.0,282.0 165.0,308.0 151.0,308.0" fill="#c6c6c6"/>
</g>
<path d="M181.6,275.5 L4.0,274.5 M17.0,267.4 L4.0,274.5 L17.0,281.7 M174.6,268.0 L159.6,275.4 L174.6,283.0" fill="none" stroke="#fff" stroke-width="2.6" stroke-linecap="round" stroke-linejoin="round"/>
<path d="M98.0,383.7 L122.4,140.8 M128.2,154.4 L122.4,140.8 L114.0,153.0 M106.2,377.5 L100.2,361.8 L91.2,376.0" fill="none" stroke="#fff" stroke-width="2.6" stroke-linecap="round" stroke-linejoin="round"/>
<rect x="134.7" y="280.6" width="30.6" height="29.4" fill="none" stroke="#fff" stroke-width="1.6"/>
<text x="28.0" y="259.0" font-size="31" font-weight="bold" fill="#fff" text-anchor="middle">3</text>
<text x="86.0" y="179.6" font-size="31" font-weight="bold" fill="#fff" text-anchor="middle">4</text>
</g>
<clipPath id="clip12"><rect x="0" y="0" width="196" height="393"/></clipPath>
<g transform="translate(601,446)" clip-path="url(#clip12)">
<g filter="url(#jet6)">
<rect x="-20" y="-20" width="236" height="433" fill="#060606"/>
<polygon points="102.0,-14.0 180.0,-14.0 178.0,14.0 163.0,61.0 147.0,69.0 114.0,65.0 104.0,41.0" fill="#131313"/>
<ellipse cx="150.0" cy="25.0" rx="14.0" ry="22.0" fill="#131313"/>
<polygon points="-14.0,140.0 60.0,140.0 85.0,145.0 120.0,165.0 145.0,175.0 180.0,165.0 190.0,185.0 210.0,225.0 210.0,337.0 173.0,357.0 143.0,367.0 112.0,363.0 82.0,357.0 41.0,347.0 -14.0,337.0" fill="#131313"/>
<ellipse cx="164.0" cy="130.0" rx="12.0" ry="13.0" fill="#131313"/>
<polygon points="-14.0,163.0 40.0,163.0 55.0,180.0 55.0,215.0 40.0,235.0 -14.0,235.0" fill="#060606"/>
<polygon points="-14.0,28.0 51.0,28.0 71.0,61.0 84.0,122.0 71.0,141.0 31.0,143.0 -14.0,147.0" fill="#131313"/>
<polygon points="-14.0,41.0 47.0,41.0 67.0,71.0 80.0,122.0 67.0,139.0 -14.0,141.0" fill="#2d2d2d"/>
<polygon points="-14.0,47.0 41.0,45.0 59.0,78.0 65.0,110.0 41.0,122.0 -14.0,124.0" fill="#535353"/>
<polygon points="-14.0,61.0 31.0,59.0 53.0,86.0 51.0,110.0 31.0,114.0 -14.0,114.0" fill="#606060"/>
<polygon points="-14.0,78.0 37.0,73.0 39.0,102.0 20.0,112.0 -14.0,106.0" fill="#868686"/>
<polygon points="10.0,78.0 33.0,78.0 33.0,98.0 12.0,98.0" fill="#939393"/>
<polygon points="-14.0,122.0 20.0,122.0 22.0,170.0 -14.0,172.0" fill="#464646"/>
<polygon points="-14.0,133.0 8.0,133.0 8.0,163.0 -14.0,163.0" fill="#606060"/>
<polygon points="-14.0,228.0 86.0,224.0 92.0,260.0 88.0,194.0 192.0,214.0 192.0,337.0 150.0,345.0 120.0,345.0 60.0,335.0 -14.0,325.0" fill="#2d2d2d"/>
<polygon points="-14.0,235.0 82.0,235.0 86.0,306.0 -14.0,306.0" fill="#535353"/>
<polygon points="20.0,245.0 67.0,245.0 69.0,296.0 20.0,296.0" fill="#606060"/>
<polygon points="26.0,251.0 61.0,251.0 61.0,279.0 26.0,279.0" fill="#868686"/>
<ellipse cx="51.0" cy="262.0" rx="6.0" ry="9.0" fill="#939393"/>
<polygon points="96.0,206.0 180.0,214.0 180.0,326.0 102.0,326.0" fill="#535353"/>
<polygon points="102.0,210.0 163.0,216.0 171.0,316.0 106.0,316.0" fill="#606060"/>
<polygon points="114.0,220.0 159.0,226.0 163.0,306.0 118.0,316.0" fill="#868686"/>
<polygon points="120.0,224.0 155.0,230.0 163.0,306.0 122.0,318.0" fill="#939393"/>
<polygon points="136.7,281.6 163.0,281.6 163.0,310.0 136.7,310.0" fill="#acacac"/>
</g>
<path d="M197.0,273.5 L30.6,272.4 M43.6,265.3 L30.6,272.4 L43.6,279.6 M190.0,266.0 L175.0,273.4 L190.0,281.0" fill="none" stroke="#fff" stroke-width="2.6" stroke-linecap="round" stroke-linejoin="round"/>
<path d="M126.5,377.5 L150.0,138.8 M155.8,152.4 L150.0,138.8 L141.6,151.0 M134.6,371.3 L128.7,355.6 L119.7,369.8" fill="none" stroke="#fff" stroke-width="2.6" stroke-linecap="round" stroke-linejoin="round"/>
<rect x="135.7" y="280.6" width="27.6" height="29.6" fill="none" stroke="#fff" stroke-width="1.6"/>
<text x="58.5" y="253.0" font-size="31" font-weight="bold" fill="#fff" text-anchor="middle">3</text>
<text x="128.5" y="177.6" font-size="31" font-weight="bold" fill="#fff" text-anchor="middle">4</text>
</g>
<clipPath id="clip13"><rect x="0" y="0" width="196" height="393"/></clipPath>
<g transform="translate(875,446)" clip-path="url(#clip13)">
<g filter="url(#jet)">
<rect x="-20" y="-20" width="236" height="433" fill="#060606"/>
<polygon points="-14.0,-14.0 122.0,-14.0 122.0,57.0 126.0,82.0 139.0,122.0 143.0,153.0 159.0,173.0 184.0,194.0 190.0,214.0 184.0,235.0 192.0,255.0 192.0,286.0 184.0,326.0 173.0,347.0 143.0,367.0 122.0,377.0 102.0,388.0 82.0,407.0 -14.0,407.0" fill="#131313"/>
<polygon points="-14.0,-14.0 30.0,-14.0 30.0,20.0 -14.0,20.0" fill="#060606"/>
<polygon points="55.0,-14.0 72.0,-14.0 72.0,40.0 55.0,40.0" fill="#131313"/>
<polygon points="-14.0,48.0 60.0,48.0 122.0,52.0 126.0,114.0 108.0,118.0 104.0,86.0 60.0,84.0 58.0,135.0 22.0,146.0 -14.0,145.0" fill="#393939"/>
<polygon points="-14.0,51.0 51.0,51.0 57.0,82.0 53.0,133.0 20.0,143.0 -14.0,139.0" fill="#464646"/>
<polygon points="40.0,57.0 118.0,57.0 122.0,112.0 108.0,112.0 104.0,82.0 55.0,78.0" fill="#464646"/>
<polygon points="-14.0,61.0 35.0,61.0 35.0,133.0 -14.0,133.0" fill="#606060"/>
<polygon points="-14.0,78.0 32.0,78.0 33.0,128.0 -14.0,131.0" fill="#868686"/>
<polygon points="-14.0,82.0 14.0,86.0 14.0,122.0 -14.0,126.0" fill="#939393"/>
<polygon points="55.0,96.0 102.0,96.0 98.0,122.0 86.0,173.0 71.0,177.0 59.0,143.0 55.0,112.0" fill="#060606"/>
<polygon points="-14.0,176.0 44.0,176.0 47.0,204.0 30.0,214.0 -14.0,214.0" fill="#060606"/>
<ellipse cx="70.0" cy="221.0" rx="11.0" ry="5.0" fill="#060606"/>
<ellipse cx="36.0" cy="240.0" rx="14.0" ry="6.0" fill="#060606"/>
<ellipse cx="5.0" cy="250.0" rx="12.0" ry="13.0" fill="#060606"/>
<polygon points="108.0,187.0 134.0,164.0 156.0,178.0 174.0,203.0 180.0,244.0 190.0,252.0 189.0,285.0 177.0,302.0 175.0,343.0 148.0,359.0 115.0,367.0 90.0,359.0 49.0,348.0 16.0,343.0 -14.0,334.0 -14.0,302.0 16.0,269.0 49.0,252.0 82.0,228.0 98.0,211.0" fill="#2d2d2d"/>
<polygon points="110.0,191.0 136.0,173.0 156.0,196.0 164.0,219.0 174.0,236.0 174.0,302.0 164.0,334.0 139.0,356.0 106.0,359.0 82.0,351.0 49.0,339.0 8.0,331.0 5.0,318.0 24.0,285.0 65.0,260.0 98.0,228.0" fill="#535353"/>
<polygon points="108.0,208.0 131.0,195.0 156.0,219.0 172.0,244.0 174.0,293.0 161.0,326.0 131.0,351.0 98.0,356.0 65.0,343.0 16.0,326.0 8.0,315.0 21.0,285.0 57.0,265.0 90.0,244.0" fill="#606060"/>
<polygon points="115.0,228.0 136.0,216.0 156.0,224.0 169.0,252.0 171.0,293.0 157.0,318.0 131.0,334.0 98.0,347.0 69.0,331.0 32.0,318.0 21.0,301.0 21.0,278.0 65.0,265.0 98.0,247.0" fill="#868686"/>
<polygon points="118.0,236.0 139.0,232.0 156.0,244.0 164.0,269.0 167.0,293.0 147.0,315.0 118.0,331.0 90.0,334.0 65.0,318.0 32.0,306.0 24.0,290.0 57.0,275.0 98.0,257.0" fill="#939393"/>
<polygon points="123.0,234.0 147.0,236.0 156.0,260.0 164.0,288.0 147.0,310.0 115.0,326.0 82.0,321.0 49.0,305.0 32.0,293.0 49.0,278.0 98.0,265.0" fill="#acacac"/>
<polygon points="124.0,233.0 139.0,234.0 142.0,260.0 156.0,282.0 156.0,296.0 131.0,305.0 106.0,318.0 73.0,311.0 57.0,293.0 82.0,278.0 106.0,269.0" fill="#b9b9b9"/>
<polygon points="128.0,246.0 139.0,252.0 144.0,272.0 156.0,285.0 154.0,298.0 131.0,301.0 98.0,301.0 65.0,298.0 59.0,290.0 90.0,278.0 115.0,272.0" fill="#c6c6c6"/>
<polygon points="92.0,275.0 139.0,269.0 147.0,282.0 142.0,298.0 115.0,298.0 92.0,290.0" fill="#d2d2d2"/>
<polygon points="110.0,274.0 136.0,274.0 136.0,298.0 123.0,298.0 115.0,293.0" fill="#dfdfdf"/>
</g>
<path d="M191.8,286.7 L2.0,285.7 M15.0,278.6 L2.0,285.7 L15.0,292.9 M184.8,279.2 L169.8,286.6 L184.8,294.2" fill="none" stroke="#fff" stroke-width="2.6" stroke-linecap="round" stroke-linejoin="round"/>
<path d="M109.0,392.0 L133.7,138.8 M139.6,152.4 L133.7,138.8 L125.3,151.0 M117.1,385.8 L111.1,370.1 L102.2,384.3" fill="none" stroke="#fff" stroke-width="2.6" stroke-linecap="round" stroke-linejoin="round"/>
<rect x="108.0" y="272.4" width="31.0" height="28.6" fill="none" stroke="#fff" stroke-width="1.6"/>
<line x1="120.4" y1="28.6" x2="120.4" y2="43.0" stroke="#fff" stroke-width="1.6" stroke-dasharray="4 3"/>
<text x="36.0" y="267.0" font-size="31" font-weight="bold" fill="#fff" text-anchor="middle">3</text>
<text x="109.7" y="176.5" font-size="31" font-weight="bold" fill="#fff" text-anchor="middle">4</text>
</g>
<rect x="1106.0" y="75.5" width="20.5" height="333.5" fill="url(#cbar)" stroke="#222" stroke-width="0.8"/>
<line x1="1123.5" y1="119.9" x2="1126.5" y2="119.9" stroke="#111" stroke-width="1"/>
<line x1="1123.5" y1="174.9" x2="1126.5" y2="174.9" stroke="#111" stroke-width="1"/>
<line x1="1123.5" y1="230.6" x2="1126.5" y2="230.6" stroke="#111" stroke-width="1"/>
<line x1="1123.5" y1="285.6" x2="1126.5" y2="285.6" stroke="#111" stroke-width="1"/>
<line x1="1123.5" y1="341.3" x2="1126.5" y2="341.3" stroke="#111" stroke-width="1"/>
<text x="1136.0" y="92.0" font-size="33.6" font-weight="bold" text-anchor="start" fill="#000" >6</text>
<text x="1136.0" y="203.7" font-size="33.6" font-weight="bold" text-anchor="start" fill="#000" >4</text>
<text x="1136.0" y="315.0" font-size="33.6" font-weight="bold" text-anchor="start" fill="#000" >2</text>
<text x="1136.0" y="428.7" font-size="33.6" font-weight="bold" text-anchor="start" fill="#000" >0</text>
<rect x="1109.0" y="467.0" width="21.5" height="343.5" fill="url(#cbar)" stroke="#222" stroke-width="0.8"/>
<line x1="1127.5" y1="512.7" x2="1130.5" y2="512.7" stroke="#111" stroke-width="1"/>
<line x1="1127.5" y1="569.4" x2="1130.5" y2="569.4" stroke="#111" stroke-width="1"/>
<line x1="1127.5" y1="626.7" x2="1130.5" y2="626.7" stroke="#111" stroke-width="1"/>
<line x1="1127.5" y1="683.4" x2="1130.5" y2="683.4" stroke="#111" stroke-width="1"/>
<line x1="1127.5" y1="740.8" x2="1130.5" y2="740.8" stroke="#111" stroke-width="1"/>
<text x="1139.0" y="483.7" font-size="33.6" font-weight="bold" text-anchor="start" fill="#000" >7.2</text>
<text x="1139.0" y="597.0" font-size="33.6" font-weight="bold" text-anchor="start" fill="#000" >4.8</text>
<text x="1139.0" y="711.0" font-size="33.6" font-weight="bold" text-anchor="start" fill="#000" >2.4</text>
<text x="1139.0" y="828.3" font-size="33.6" font-weight="bold" text-anchor="start" fill="#000" >0</text>
<text x="1126.5" y="48.5" font-size="34.0" font-weight="bold" text-anchor="start" fill="#000" >MPa</text>
<text x="88.5" y="884.5" font-size="39.7" font-weight="normal" text-anchor="start" fill="#000" >Defect</text>
<text x="321.5" y="884.5" font-size="39.8" font-weight="normal" text-anchor="start" fill="#000" >Repair(0.5E)</text>
<text x="627.0" y="884.5" font-size="39.5" font-weight="normal" text-anchor="start" fill="#000" >Repair(E)</text>
<text x="913.0" y="884.5" font-size="39.5" font-weight="normal" text-anchor="start" fill="#000" >Intact</text>
<line x1="90" y1="910.5" x2="217" y2="910.5" stroke="#7030a0" stroke-width="4.5" stroke-dasharray="14 10"/>
<line x1="323" y1="912.5" x2="447" y2="912.5" stroke="#ff1010" stroke-width="4.5" stroke-dasharray="14 10 4 10"/>
<line x1="628" y1="910.5" x2="746" y2="910.5" stroke="#1060c0" stroke-width="4.5" stroke-dasharray="22 10 4 10 4 10"/>
<line x1="914.5" y1="913" x2="1040" y2="913" stroke="#10a040" stroke-width="4.5"/>
<rect x="101.5" y="1027.7" width="421.0" height="5.6" fill="url(#garr)"/>
<path d="M500.5,1018.5 L524.5,1030.5 L500.5,1042.5" stroke="#0b5f80" stroke-width="6" fill="none" stroke-linecap="round" stroke-linejoin="round"/>
<line x1="525.5" y1="1030.5" x2="525.5" y2="1372.0" stroke="#000" stroke-width="4"/>
<line x1="88.5" y1="1372.0" x2="527.5" y2="1372.0" stroke="#000" stroke-width="4"/>
<line x1="100.5" y1="1028.5" x2="100.5" y2="1386.0" stroke="#000" stroke-width="4"/>
<line x1="88.5" y1="1372.0" x2="100.5" y2="1372.0" stroke="#000" stroke-width="4"/>
<line x1="88.5" y1="1303.7" x2="100.5" y2="1303.7" stroke="#000" stroke-width="4"/>
<line x1="88.5" y1="1235.4" x2="100.5" y2="1235.4" stroke="#000" stroke-width="4"/>
<line x1="88.5" y1="1167.1" x2="100.5" y2="1167.1" stroke="#000" stroke-width="4"/>
<line x1="88.5" y1="1098.8" x2="100.5" y2="1098.8" stroke="#000" stroke-width="4"/>
<line x1="88.5" y1="1030.5" x2="100.5" y2="1030.5" stroke="#000" stroke-width="4"/>
<line x1="94.5" y1="1337.8" x2="100.5" y2="1337.8" stroke="#000" stroke-width="3.5"/>
<line x1="94.5" y1="1269.5" x2="100.5" y2="1269.5" stroke="#000" stroke-width="3.5"/>
<line x1="94.5" y1="1201.2" x2="100.5" y2="1201.2" stroke="#000" stroke-width="3.5"/>
<line x1="94.5" y1="1133.0" x2="100.5" y2="1133.0" stroke="#000" stroke-width="3.5"/>
<line x1="94.5" y1="1064.7" x2="100.5" y2="1064.7" stroke="#000" stroke-width="3.5"/>
<text x="78.5" y="1381.0" font-size="26.5" font-weight="bold" text-anchor="end" fill="#000" >0</text>
<text x="78.5" y="1312.7" font-size="26.5" font-weight="bold" text-anchor="end" fill="#000" >1</text>
<text x="78.5" y="1244.4" font-size="26.5" font-weight="bold" text-anchor="end" fill="#000" >2</text>
<text x="78.5" y="1176.1" font-size="26.5" font-weight="bold" text-anchor="end" fill="#000" >3</text>
<text x="78.5" y="1107.8" font-size="26.5" font-weight="bold" text-anchor="end" fill="#000" >4</text>
<text x="78.5" y="1039.5" font-size="26.5" font-weight="bold" text-anchor="end" fill="#000" >5</text>
<line x1="100.5" y1="1372.0" x2="100.5" y2="1384.0" stroke="#000" stroke-width="4"/>
<line x1="233.3" y1="1372.0" x2="233.3" y2="1384.0" stroke="#000" stroke-width="4"/>
<line x1="366.1" y1="1372.0" x2="366.1" y2="1384.0" stroke="#000" stroke-width="4"/>
<line x1="498.9" y1="1372.0" x2="498.9" y2="1384.0" stroke="#000" stroke-width="4"/>
<line x1="166.9" y1="1372.0" x2="166.9" y2="1378.0" stroke="#000" stroke-width="4"/>
<line x1="299.7" y1="1372.0" x2="299.7" y2="1378.0" stroke="#000" stroke-width="4"/>
<line x1="432.5" y1="1372.0" x2="432.5" y2="1378.0" stroke="#000" stroke-width="4"/>
<text x="100.5" y="1415.0" font-size="26.5" font-weight="bold" text-anchor="middle" fill="#000" >0</text>
<text x="233.3" y="1415.0" font-size="26.5" font-weight="bold" text-anchor="middle" fill="#000" >5</text>
<text x="366.1" y="1415.0" font-size="26.5" font-weight="bold" text-anchor="middle" fill="#000" >10</text>
<text x="498.9" y="1415.0" font-size="26.5" font-weight="bold" text-anchor="middle" fill="#000" >15</text>
<text x="112.0" y="1016.0" font-size="38.2" font-weight="bold" text-anchor="start" fill="#000" >Path 1</text>
<polyline points="100.0,1371.0 127.0,1227.0 141.0,1214.0 155.0,1211.0 159.0,1213.0 181.0,1222.0 187.0,1225.0 195.0,1235.0 287.0,1372.0 356.0,1372.0 422.0,1237.0 444.0,1237.0 458.0,1238.0 460.0,1242.0 481.0,1326.0 489.0,1372.0" fill="none" stroke="#7f00ff" stroke-width="3.8" stroke-linejoin="round" stroke-linecap="round" stroke-dasharray="15.5 26.5"/>
<polyline points="100.0,1371.0 127.0,1227.0 153.0,1251.0 184.0,1241.0 197.0,1254.4 253.0,1166.0 287.0,1142.0 300.0,1149.0 350.0,1187.0 378.0,1198.0 414.0,1213.0 444.0,1234.0 456.0,1244.0 484.0,1292.0 489.0,1324.0 495.0,1370.0" fill="none" stroke="#ef3030" stroke-width="3.8" stroke-linejoin="round" stroke-linecap="round" stroke-dasharray="19.5 17.5 0.5 17.5"/>
<polyline points="100.0,1371.0 191.0,1238.0 244.0,1118.0 269.0,1081.0 290.0,1065.6 303.0,1079.0 445.0,1317.0 453.0,1370.0" fill="none" stroke="#1062e0" stroke-width="3.8" stroke-linejoin="round" stroke-linecap="round" stroke-dasharray="14.5 16.5 0.5 16.5 0.5 16.5"/>
<polyline points="100.0,1371.0 164.0,1318.0 188.0,1315.6 217.0,1247.0 255.0,1114.0 289.0,1062.0 321.0,1071.0 488.0,1328.0 499.0,1370.0" fill="none" stroke="#2ca05c" stroke-width="4.1" stroke-linejoin="round" stroke-linecap="round"/>
<rect x="622.0" y="1027.2" width="422.5" height="5.6" fill="url(#garr)"/>
<path d="M1022.5,1018.0 L1046.5,1030.0 L1022.5,1042.0" stroke="#0b5f80" stroke-width="6" fill="none" stroke-linecap="round" stroke-linejoin="round"/>
<line x1="1047.5" y1="1030.0" x2="1047.5" y2="1372.0" stroke="#000" stroke-width="4"/>
<line x1="609.0" y1="1372.0" x2="1049.5" y2="1372.0" stroke="#000" stroke-width="4"/>
<line x1="621.0" y1="1028.0" x2="621.0" y2="1386.0" stroke="#000" stroke-width="4"/>
<line x1="609.0" y1="1372.0" x2="621.0" y2="1372.0" stroke="#000" stroke-width="4"/>
<line x1="609.0" y1="1286.5" x2="621.0" y2="1286.5" stroke="#000" stroke-width="4"/>
<line x1="609.0" y1="1201.0" x2="621.0" y2="1201.0" stroke="#000" stroke-width="4"/>
<line x1="609.0" y1="1115.5" x2="621.0" y2="1115.5" stroke="#000" stroke-width="4"/>
<line x1="609.0" y1="1030.0" x2="621.0" y2="1030.0" stroke="#000" stroke-width="4"/>
<line x1="615.0" y1="1329.2" x2="621.0" y2="1329.2" stroke="#000" stroke-width="3.5"/>
<line x1="615.0" y1="1243.8" x2="621.0" y2="1243.8" stroke="#000" stroke-width="3.5"/>
<line x1="615.0" y1="1158.2" x2="621.0" y2="1158.2" stroke="#000" stroke-width="3.5"/>
<line x1="615.0" y1="1072.8" x2="621.0" y2="1072.8" stroke="#000" stroke-width="3.5"/>
<text x="599.0" y="1295.5" font-size="26.5" font-weight="bold" text-anchor="end" fill="#000" >2</text>
<text x="599.0" y="1210.0" font-size="26.5" font-weight="bold" text-anchor="end" fill="#000" >4</text>
<text x="599.0" y="1124.5" font-size="26.5" font-weight="bold" text-anchor="end" fill="#000" >6</text>
<text x="599.0" y="1039.0" font-size="26.5" font-weight="bold" text-anchor="end" fill="#000" >8</text>
<line x1="621.0" y1="1372.0" x2="621.0" y2="1384.0" stroke="#000" stroke-width="4"/>
<line x1="763.2" y1="1372.0" x2="763.2" y2="1384.0" stroke="#000" stroke-width="4"/>
<line x1="905.3" y1="1372.0" x2="905.3" y2="1384.0" stroke="#000" stroke-width="4"/>
<line x1="1047.5" y1="1372.0" x2="1047.5" y2="1384.0" stroke="#000" stroke-width="4"/>
<line x1="692.1" y1="1372.0" x2="692.1" y2="1378.0" stroke="#000" stroke-width="4"/>
<line x1="834.3" y1="1372.0" x2="834.3" y2="1378.0" stroke="#000" stroke-width="4"/>
<line x1="976.4" y1="1372.0" x2="976.4" y2="1378.0" stroke="#000" stroke-width="4"/>
<text x="621.0" y="1415.0" font-size="26.5" font-weight="bold" text-anchor="middle" fill="#000" >0</text>
<text x="763.2" y="1415.0" font-size="26.5" font-weight="bold" text-anchor="middle" fill="#000" >7</text>
<text x="905.3" y="1415.0" font-size="26.5" font-weight="bold" text-anchor="middle" fill="#000" >14</text>
<text x="1047.5" y="1415.0" font-size="26.5" font-weight="bold" text-anchor="middle" fill="#000" >21</text>
<text x="633.4" y="1016.0" font-size="38.2" font-weight="bold" text-anchor="start" fill="#000" >Path 2</text>
<polyline points="621.0,1372.0 730.0,1082.0 760.0,1142.0 808.0,1372.0 860.0,1372.0 884.0,1255.0 910.0,1243.0 962.0,1310.0 1019.0,1278.0 1025.0,1286.0 1028.0,1372.0" fill="none" stroke="#7f00ff" stroke-width="3.8" stroke-linejoin="round" stroke-linecap="round" stroke-dasharray="15.5 26.5"/>
<polyline points="621.0,1372.0 660.0,1294.0 676.0,1260.0 698.0,1184.0 722.0,1150.0 757.0,1131.0 762.0,1138.0 802.0,1236.0 830.0,1256.0 836.0,1261.0 850.0,1259.0 885.0,1255.0 896.0,1266.0 930.0,1308.0 954.0,1336.0 958.0,1356.0 960.0,1370.0" fill="none" stroke="#ef3030" stroke-width="3.8" stroke-linejoin="round" stroke-linecap="round" stroke-dasharray="19.5 17.5 0.5 17.5"/>
<polyline points="621.0,1372.0 676.0,1202.0 706.0,1166.0 772.0,1165.0 802.0,1176.0 832.0,1214.0 858.0,1203.0 890.0,1224.0 950.0,1320.0 959.0,1336.0 966.0,1370.0" fill="none" stroke="#1062e0" stroke-width="3.8" stroke-linejoin="round" stroke-linecap="round" stroke-dasharray="14.5 16.5 0.5 16.5 0.5 16.5"/>
<polyline points="621.0,1372.0 701.0,1226.0 732.0,1223.0 756.0,1196.0 807.0,1178.0 857.0,1219.0 885.0,1228.0 934.0,1294.0 960.0,1328.0 979.0,1322.4 998.0,1372.0" fill="none" stroke="#2ca05c" stroke-width="4.1" stroke-linejoin="round" stroke-linecap="round"/>
<rect x="103.6" y="1503.7" width="412.5" height="5.6" fill="url(#garr)"/>
<path d="M494.1,1494.5 L518.1,1506.5 L494.1,1518.5" stroke="#0b5f80" stroke-width="6" fill="none" stroke-linecap="round" stroke-linejoin="round"/>
<line x1="519.1" y1="1506.5" x2="519.1" y2="1842.5" stroke="#000" stroke-width="4"/>
<line x1="90.6" y1="1842.5" x2="521.1" y2="1842.5" stroke="#000" stroke-width="4"/>
<line x1="102.6" y1="1504.5" x2="102.6" y2="1856.5" stroke="#000" stroke-width="4"/>
<line x1="90.6" y1="1842.5" x2="102.6" y2="1842.5" stroke="#000" stroke-width="4"/>
<line x1="90.6" y1="1730.5" x2="102.6" y2="1730.5" stroke="#000" stroke-width="4"/>
<line x1="90.6" y1="1618.5" x2="102.6" y2="1618.5" stroke="#000" stroke-width="4"/>
<line x1="90.6" y1="1506.5" x2="102.6" y2="1506.5" stroke="#000" stroke-width="4"/>
<line x1="96.6" y1="1786.5" x2="102.6" y2="1786.5" stroke="#000" stroke-width="3.5"/>
<line x1="96.6" y1="1674.5" x2="102.6" y2="1674.5" stroke="#000" stroke-width="3.5"/>
<line x1="96.6" y1="1562.5" x2="102.6" y2="1562.5" stroke="#000" stroke-width="3.5"/>
<text x="80.6" y="1851.5" font-size="26.5" font-weight="bold" text-anchor="end" fill="#000" >0</text>
<text x="80.6" y="1739.5" font-size="26.5" font-weight="bold" text-anchor="end" fill="#000" >3</text>
<text x="80.6" y="1627.5" font-size="26.5" font-weight="bold" text-anchor="end" fill="#000" >6</text>
<text x="80.6" y="1515.5" font-size="26.5" font-weight="bold" text-anchor="end" fill="#000" >9</text>
<line x1="102.6" y1="1842.5" x2="102.6" y2="1854.5" stroke="#000" stroke-width="4"/>
<line x1="225.1" y1="1842.5" x2="225.1" y2="1854.5" stroke="#000" stroke-width="4"/>
<line x1="347.6" y1="1842.5" x2="347.6" y2="1854.5" stroke="#000" stroke-width="4"/>
<line x1="470.1" y1="1842.5" x2="470.1" y2="1854.5" stroke="#000" stroke-width="4"/>
<line x1="163.8" y1="1842.5" x2="163.8" y2="1848.5" stroke="#000" stroke-width="4"/>
<line x1="286.4" y1="1842.5" x2="286.4" y2="1848.5" stroke="#000" stroke-width="4"/>
<line x1="408.9" y1="1842.5" x2="408.9" y2="1848.5" stroke="#000" stroke-width="4"/>
<text x="102.6" y="1885.5" font-size="26.5" font-weight="bold" text-anchor="middle" fill="#000" >0</text>
<text x="225.1" y="1885.5" font-size="26.5" font-weight="bold" text-anchor="middle" fill="#000" >5</text>
<text x="347.6" y="1885.5" font-size="26.5" font-weight="bold" text-anchor="middle" fill="#000" >10</text>
<text x="470.1" y="1885.5" font-size="26.5" font-weight="bold" text-anchor="middle" fill="#000" >15</text>
<text x="114.0" y="1485.0" font-size="38.2" font-weight="bold" text-anchor="start" fill="#000" >Path 3</text>
<polyline points="102.6,1842.0 134.0,1812.0 193.0,1553.0 223.0,1842.5 351.0,1842.5 411.0,1586.0 496.0,1840.0" fill="none" stroke="#7f00ff" stroke-width="3.8" stroke-linejoin="round" stroke-linecap="round" stroke-dasharray="15.5 26.5"/>
<polyline points="102.6,1842.0 131.0,1814.0 138.0,1784.0 191.0,1613.0 199.0,1620.0 225.0,1712.0 233.0,1717.0 287.0,1737.0 317.0,1733.6 349.0,1753.0 379.0,1745.0 412.0,1728.0 440.0,1737.0 450.0,1756.0 472.0,1806.0 487.0,1840.0" fill="none" stroke="#ef3030" stroke-width="3.8" stroke-linejoin="round" stroke-linecap="round" stroke-dasharray="19.5 17.5 0.5 17.5"/>
<polyline points="102.6,1842.0 215.0,1682.0 225.0,1677.0 243.0,1671.0 286.0,1605.0 315.0,1689.0 374.0,1714.0 436.0,1713.0 444.0,1728.0 492.0,1830.0 495.0,1842.0" fill="none" stroke="#1062e0" stroke-width="3.8" stroke-linejoin="round" stroke-linecap="round" stroke-dasharray="14.5 16.5 0.5 16.5 0.5 16.5"/>
<polyline points="102.6,1842.0 133.0,1806.0 161.0,1778.0 186.0,1755.0 211.0,1716.0 245.0,1702.0 277.0,1578.0 307.0,1632.0 382.0,1704.0 480.0,1813.0 495.0,1842.0" fill="none" stroke="#2ca05c" stroke-width="4.1" stroke-linejoin="round" stroke-linecap="round"/>
<rect x="620.4" y="1503.7" width="411.7" height="5.6" fill="url(#garr)"/>
<path d="M1010.1,1494.5 L1034.1,1506.5 L1010.1,1518.5" stroke="#0b5f80" stroke-width="6" fill="none" stroke-linecap="round" stroke-linejoin="round"/>
<line x1="1035.1" y1="1506.5" x2="1035.1" y2="1842.5" stroke="#000" stroke-width="4"/>
<line x1="607.4" y1="1842.5" x2="1037.1" y2="1842.5" stroke="#000" stroke-width="4"/>
<line x1="619.4" y1="1504.5" x2="619.4" y2="1856.5" stroke="#000" stroke-width="4"/>
<line x1="607.4" y1="1842.5" x2="619.4" y2="1842.5" stroke="#000" stroke-width="4"/>
<line x1="607.4" y1="1758.5" x2="619.4" y2="1758.5" stroke="#000" stroke-width="4"/>
<line x1="607.4" y1="1674.5" x2="619.4" y2="1674.5" stroke="#000" stroke-width="4"/>
<line x1="607.4" y1="1590.5" x2="619.4" y2="1590.5" stroke="#000" stroke-width="4"/>
<line x1="607.4" y1="1506.5" x2="619.4" y2="1506.5" stroke="#000" stroke-width="4"/>
<line x1="613.4" y1="1800.5" x2="619.4" y2="1800.5" stroke="#000" stroke-width="3.5"/>
<line x1="613.4" y1="1716.5" x2="619.4" y2="1716.5" stroke="#000" stroke-width="3.5"/>
<line x1="613.4" y1="1632.5" x2="619.4" y2="1632.5" stroke="#000" stroke-width="3.5"/>
<line x1="613.4" y1="1548.5" x2="619.4" y2="1548.5" stroke="#000" stroke-width="3.5"/>
<text x="597.4" y="1767.5" font-size="26.5" font-weight="bold" text-anchor="end" fill="#000" >2</text>
<text x="597.4" y="1683.5" font-size="26.5" font-weight="bold" text-anchor="end" fill="#000" >4</text>
<text x="597.4" y="1599.5" font-size="26.5" font-weight="bold" text-anchor="end" fill="#000" >6</text>
<text x="597.4" y="1515.5" font-size="26.5" font-weight="bold" text-anchor="end" fill="#000" >8</text>
<line x1="619.4" y1="1842.5" x2="619.4" y2="1854.5" stroke="#000" stroke-width="4"/>
<line x1="750.7" y1="1842.5" x2="750.7" y2="1854.5" stroke="#000" stroke-width="4"/>
<line x1="882.0" y1="1842.5" x2="882.0" y2="1854.5" stroke="#000" stroke-width="4"/>
<line x1="1013.2" y1="1842.5" x2="1013.2" y2="1854.5" stroke="#000" stroke-width="4"/>
<line x1="685.0" y1="1842.5" x2="685.0" y2="1848.5" stroke="#000" stroke-width="4"/>
<line x1="816.3" y1="1842.5" x2="816.3" y2="1848.5" stroke="#000" stroke-width="4"/>
<line x1="947.6" y1="1842.5" x2="947.6" y2="1848.5" stroke="#000" stroke-width="4"/>
<text x="619.4" y="1885.5" font-size="26.5" font-weight="bold" text-anchor="middle" fill="#000" >0</text>
<text x="750.7" y="1885.5" font-size="26.5" font-weight="bold" text-anchor="middle" fill="#000" >6</text>
<text x="882.0" y="1885.5" font-size="26.5" font-weight="bold" text-anchor="middle" fill="#000" >12</text>
<text x="1013.2" y="1885.5" font-size="26.5" font-weight="bold" text-anchor="middle" fill="#000" >18</text>
<text x="631.0" y="1485.5" font-size="38.2" font-weight="bold" text-anchor="start" fill="#000" >Path 4</text>
<polyline points="619.2,1842.7 628.3,1756.5 641.2,1800.5 669.6,1718.0 699.8,1842.5 841.5,1842.5 890.0,1620.0 922.0,1660.0 928.0,1674.0 990.0,1812.0 996.0,1828.0 998.0,1842.0" fill="none" stroke="#7f00ff" stroke-width="3.8" stroke-linejoin="round" stroke-linecap="round" stroke-dasharray="15.5 26.5"/>
<polyline points="619.2,1842.7 632.0,1813.0 652.2,1758.3 670.5,1727.2 683.3,1710.7 690.7,1708.8 714.5,1719.0 764.0,1708.0 800.0,1727.0 821.7,1742.0 846.6,1718.3 880.2,1683.6 891.0,1682.5 917.0,1688.0 934.3,1702.0 943.0,1715.0 960.3,1738.8 971.2,1742.0 986.3,1747.5 995.0,1754.0 1009.0,1772.4 1013.4,1830.0" fill="none" stroke="#ef3030" stroke-width="3.8" stroke-linejoin="round" stroke-linecap="round" stroke-dasharray="19.5 17.5 0.5 17.5"/>
<polyline points="619.2,1842.7 677.8,1758.3 782.3,1565.0 793.3,1578.7 800.0,1589.3 837.9,1618.6 850.4,1628.3 880.2,1665.2 909.0,1739.0 969.0,1817.0 973.0,1834.0" fill="none" stroke="#1062e0" stroke-width="3.8" stroke-linejoin="round" stroke-linecap="round" stroke-dasharray="14.5 16.5 0.5 16.5 0.5 16.5"/>
<polyline points="619.2,1842.7 681.5,1666.7 709.0,1660.0 734.7,1600.7 765.8,1593.3 788.7,1533.8 798.8,1540.2 820.6,1573.0 847.7,1582.8 874.8,1608.8 931.1,1733.4 960.3,1764.9 989.6,1773.5 1000.4,1841.8" fill="none" stroke="#2ca05c" stroke-width="4.1" stroke-linejoin="round" stroke-linecap="round"/>
<line x1="88" y1="1372.0" x2="1100" y2="1372.0" stroke="#000" stroke-width="3"/>
<path d="M1097,1365.5 L1110,1372.0 L1097,1378.5 z" fill="#000"/>
<path d="M566,1395.0 L581,1354.0 M581,1395.0 L596,1354.0" stroke="#000" stroke-width="3.2"/>
<line x1="90" y1="1842.5" x2="1091" y2="1842.5" stroke="#000" stroke-width="3"/>
<path d="M1088,1836.0 L1101,1842.5 L1088,1849.0 z" fill="#000"/>
<path d="M566,1865.5 L581,1824.5 M581,1865.5 L596,1824.5" stroke="#000" stroke-width="3.2"/>
<text x="555.5" y="1443.0" font-size="30.6" font-weight="bold" text-anchor="middle" fill="#000" >Distance (mm)</text>
<text x="553.0" y="1915.0" font-size="30.6" font-weight="bold" text-anchor="middle" fill="#000" >Distance (mm)</text>
<text transform="translate(40.5,1422.5) rotate(-90)" font-size="28.9" font-weight="bold" xml:space="preserve">Peak stress of  contact region (MPa)</text>
<text transform="translate(40.5,1901) rotate(-90)" font-size="29.2" font-weight="bold" xml:space="preserve">Peak stress of  contact region (MPa)</text>
</svg></body></html>
